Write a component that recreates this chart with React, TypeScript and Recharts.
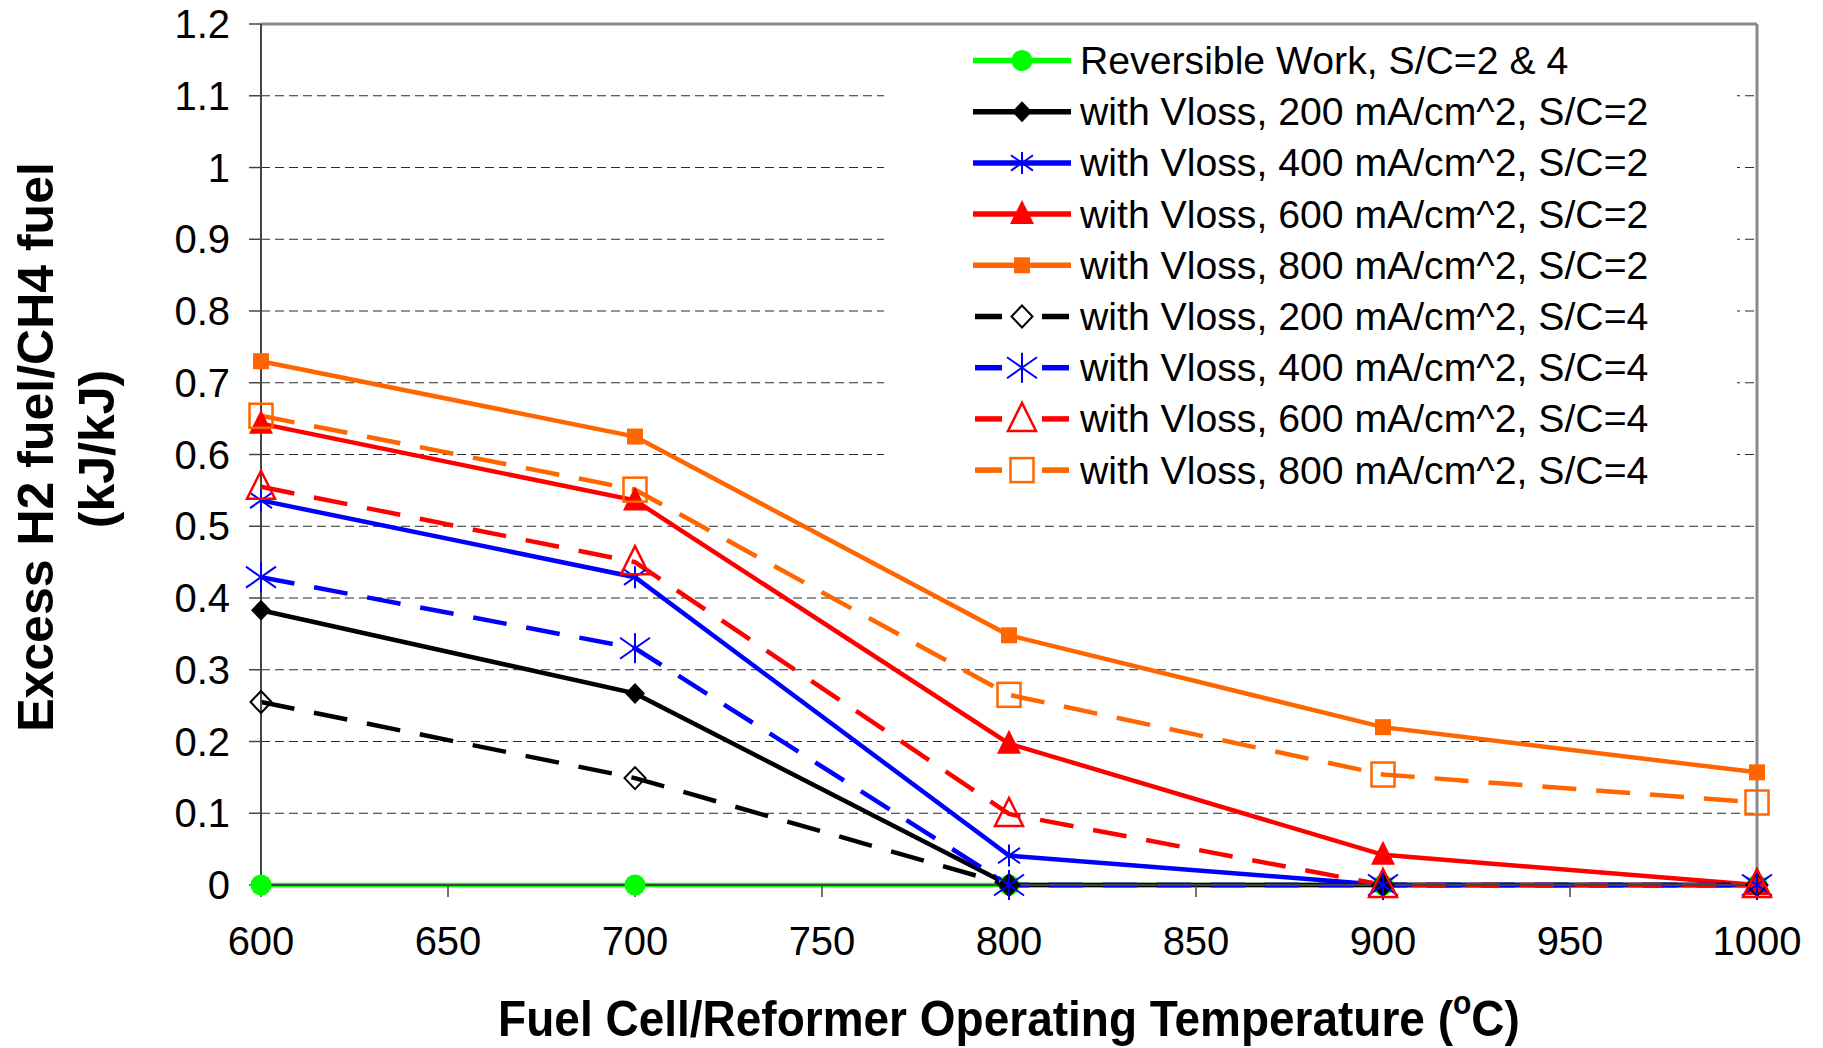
import React from "react";
import { LineChart, Line, XAxis, YAxis, CartesianGrid, ReferenceLine } from "recharts";

const temps = [600, 700, 800, 900, 1000];
const reversibleWork = [0, 0, 0, 0, 0];
const sc2_200 = [0.383, 0.267, 0, 0, 0];
const sc2_400 = [0.536, 0.429, 0.041, 0, 0];
const sc2_600 = [0.643, 0.536, 0.197, 0.042, 0];
const sc2_800 = [0.73, 0.625, 0.348, 0.22, 0.157];
const sc4_200 = [0.255, 0.149, 0, 0, 0];
const sc4_400 = [0.429, 0.33, 0, 0, 0];
const sc4_600 = [0.555, 0.45, 0.099, 0, 0];
const sc4_800 = [0.654, 0.551, 0.265, 0.154, 0.115];

const xTicks = [600, 650, 700, 750, 800, 850, 900, 950, 1000];
const yTicks = [0, 0.1, 0.2, 0.3, 0.4, 0.5, 0.6, 0.7, 0.8, 0.9, 1, 1.1, 1.2];

const xTitle = "Fuel Cell/Reformer Operating Temperature (";
const yTitle1 = "Excess H2 fuel/CH4 fuel";
const yTitle2 = "(kJ/kJ)";

type Shape = "circle" | "diamond" | "diamondOpen" | "star" | "starBig" | "triangle" | "triangleOpen" | "square" | "squareOpen";

const series: { key: string; name: string; values: number[]; color: string; dashed: boolean; shape: Shape }[] = [
  { key: "rev", name: "Reversible Work, S/C=2 & 4", values: reversibleWork, color: "#00FF00", dashed: false, shape: "circle" },
  { key: "a200", name: "with Vloss, 200 mA/cm^2, S/C=2", values: sc2_200, color: "#000000", dashed: false, shape: "diamond" },
  { key: "a400", name: "with Vloss, 400 mA/cm^2, S/C=2", values: sc2_400, color: "#0000FF", dashed: false, shape: "star" },
  { key: "a600", name: "with Vloss, 600 mA/cm^2, S/C=2", values: sc2_600, color: "#FF0000", dashed: false, shape: "triangle" },
  { key: "a800", name: "with Vloss, 800 mA/cm^2, S/C=2", values: sc2_800, color: "#FF6600", dashed: false, shape: "square" },
  { key: "b200", name: "with Vloss, 200 mA/cm^2, S/C=4", values: sc4_200, color: "#000000", dashed: true, shape: "diamondOpen" },
  { key: "b400", name: "with Vloss, 400 mA/cm^2, S/C=4", values: sc4_400, color: "#0000FF", dashed: true, shape: "starBig" },
  { key: "b600", name: "with Vloss, 600 mA/cm^2, S/C=4", values: sc4_600, color: "#FF0000", dashed: true, shape: "triangleOpen" },
  { key: "b800", name: "with Vloss, 800 mA/cm^2, S/C=4", values: sc4_800, color: "#FF6600", dashed: true, shape: "squareOpen" },
];

const rows = temps.map((t, i) => {
  const r: Record<string, number> = { t };
  series.forEach((s) => {
    r[s.key] = s.values[i];
  });
  return r;
});

const FONT = "'Liberation Sans', Arial, sans-serif";

function marker(shape: Shape, color: string, cx: number, cy: number, key: string, openFill = "none") {
  switch (shape) {
    case "circle":
      return <circle key={key} cx={cx} cy={cy} r={10.5} fill={color} />;
    case "diamond":
      return <polygon key={key} points={`${cx},${cy - 10.5} ${cx + 10},${cy} ${cx},${cy + 10.5} ${cx - 10},${cy}`} fill={color} />;
    case "diamondOpen":
      return (
        <polygon key={key} points={`${cx},${cy - 11} ${cx + 10.5},${cy} ${cx},${cy + 11} ${cx - 10.5},${cy}`} fill={openFill} stroke={color} strokeWidth={2} />
      );
    case "star":
    case "starBig": {
      const s = shape === "star" ? 11 : 15;
      return (
        <g key={key} stroke={color} strokeWidth={2}>
          <line x1={cx} y1={cy - s} x2={cx} y2={cy + s} />
          <line x1={cx - s} y1={cy - s * 0.7} x2={cx + s} y2={cy + s * 0.7} />
          <line x1={cx - s} y1={cy + s * 0.7} x2={cx + s} y2={cy - s * 0.7} />
        </g>
      );
    }
    case "triangle":
      return <polygon key={key} points={`${cx},${cy - 14} ${cx + 12},${cy + 10} ${cx - 12},${cy + 10}`} fill={color} />;
    case "triangleOpen":
      return (
        <polygon key={key} points={`${cx},${cy - 16} ${cx + 14},${cy + 12} ${cx - 14},${cy + 12}`} fill={openFill} stroke={color} strokeWidth={2.5} />
      );
    case "square":
      return <rect key={key} x={cx - 8} y={cy - 8} width={16} height={16} fill={color} />;
    case "squareOpen":
      return <rect key={key} x={cx - 11.5} y={cy - 12} width={23} height={24} fill={openFill} stroke={color} strokeWidth={2.5} />;
  }
  return null;
}

const makeDot = (shape: Shape, color: string, name: string) => (props: any) => {
  const { cx, cy, index } = props;
  if (cx == null || cy == null) return <g key={`${name}-${index}`} />;
  return marker(shape, color, cx, cy, `${name}-${index}`);
};

const tickStyle = { fill: "#000", fontSize: 40, fontFamily: FONT };

export default function App() {
  const legendTop = 27;
  const legendLeft = 884;
  return (
    <div style={{ position: "absolute", left: 0, top: 0, width: 1823, height: 1048, background: "#fff" }}>
      <LineChart width={1823} height={1048} data={rows} margin={{ top: 24, right: 66, bottom: 63, left: 61 }}>
        <CartesianGrid vertical={false} stroke="#2a2a2a" strokeDasharray="9 5" strokeWidth={1} />
        <XAxis
          dataKey="t"
          type="number"
          domain={[600, 1000]}
          ticks={xTicks}
          height={100}
          tickSize={12}
          tickMargin={30}
          tick={tickStyle}
          axisLine={{ stroke: "#444", strokeWidth: 2 }}
          tickLine={{ stroke: "#444", strokeWidth: 1.5 }}
        />
        <YAxis
          type="number"
          domain={[0, 1.2]}
          ticks={yTicks}
          width={200}
          tickSize={12}
          tickMargin={19}
          tick={tickStyle}
          tickFormatter={(v: number) => String(v)}
          axisLine={{ stroke: "#444", strokeWidth: 2 }}
          tickLine={{ stroke: "#444", strokeWidth: 1.5 }}
          interval={0}
        />
        <ReferenceLine y={1.2} stroke="#8a8a8a" strokeWidth={3} />
        <ReferenceLine x={1000} stroke="#8a8a8a" strokeWidth={3} />
        {series.map((s) => (
          <Line
            key={s.key}
            dataKey={s.key}
            name={s.name}
            type="linear"
            stroke={s.color}
            strokeWidth={4.5}
            strokeDasharray={s.dashed ? "34 20" : undefined}
            dot={makeDot(s.shape, s.color, s.key)}
            activeDot={false}
            isAnimationActive={false}
          />
        ))}
      </LineChart>
      <svg
        width={1823}
        height={1048}
        style={{ position: "absolute", left: 0, top: 0, pointerEvents: "none" }}
        fontFamily={FONT}
      >
        <rect x={legendLeft} y={legendTop} width={853} height={461} fill="#fff" />
        {series.map((s, i) => {
          const cy = 60.5 + 51.2 * i;
          return (
            <g key={s.key}>
              {s.dashed ? (
                <g stroke={s.color} strokeWidth={5.5}>
                  <line x1={975} y1={cy} x2={1002} y2={cy} />
                  <line x1={1042} y1={cy} x2={1069} y2={cy} />
                </g>
              ) : (
                <line x1={973} y1={cy} x2={1071} y2={cy} stroke={s.color} strokeWidth={5.5} />
              )}
              {marker(s.shape, s.color, 1022, cy, `lg-${s.key}`, "#fff")}
              <text x={1080} y={cy + 13.5} fontSize={39.2} fill="#000">
                {s.name}
              </text>
            </g>
          );
        })}
        <text
          transform="translate(1009,1036) scale(1,1.1)"
          x={0}
          y={0}
          textAnchor="middle"
          fontSize={46}
          fontWeight="bold"
          fill="#000"
        >
          {xTitle}
          <tspan dy={-20} fontSize={30}>o</tspan>
          <tspan dy={20}>C)</tspan>
        </text>
        <text transform="translate(53,447) rotate(-90)" textAnchor="middle" fontSize={50} fontWeight="bold" fill="#000">
          {yTitle1}
        </text>
        <text transform="translate(114,449) rotate(-90)" textAnchor="middle" fontSize={50} fontWeight="bold" fill="#000">
          {yTitle2}
        </text>
      </svg>
    </div>
  );
}
